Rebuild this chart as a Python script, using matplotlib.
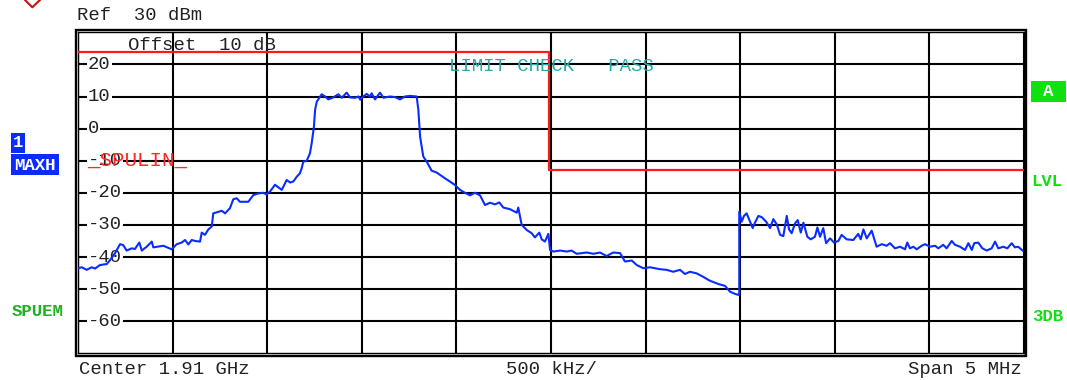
import numpy as np
import matplotlib
matplotlib.use('Agg')
import matplotlib.pyplot as plt
from matplotlib.patches import Rectangle
from matplotlib.lines import Line2D

# trace 1 (max hold), frequency offset from 1.91 GHz centre in MHz, level in dBm
freq_mhz = [
    -2.500, -2.480, -2.454, -2.428, -2.410, -2.384, -2.348, -2.331, -2.304, -2.278,
    -2.261, -2.243, -2.216, -2.199, -2.176, -2.163, -2.137, -2.110, -2.102, -2.049,
    -2.005, -1.978, -1.952, -1.934, -1.917, -1.899, -1.882, -1.855, -1.846, -1.829,
    -1.811, -1.793, -1.785, -1.758, -1.740, -1.723, -1.697, -1.679, -1.661, -1.644,
    -1.600, -1.573, -1.547, -1.521, -1.503, -1.485, -1.459, -1.441, -1.423, -1.397,
    -1.379, -1.362, -1.344, -1.327, -1.318, -1.309, -1.291, -1.274, -1.265, -1.253,
    -1.247, -1.238, -1.212, -1.194, -1.177, -1.151, -1.124, -1.106, -1.080, -1.062,
    -1.036, -1.018, -1.008, -0.992, -0.974, -0.957, -0.948, -0.930, -0.904, -0.886,
    -0.851, -0.824, -0.798, -0.772, -0.745, -0.710, -0.701, -0.692, -0.675, -0.657,
    -0.631, -0.604, -0.587, -0.560, -0.534, -0.507, -0.481, -0.464, -0.428, -0.402,
    -0.375, -0.349, -0.322, -0.296, -0.273, -0.252, -0.217, -0.181, -0.173, -0.155,
    -0.128, -0.102, -0.085, -0.062, -0.049, -0.032, -0.014, -0.005, 0.012, 0.048,
    0.083, 0.109, 0.136, 0.189, 0.224, 0.259, 0.294, 0.329, 0.365, 0.391,
    0.427, 0.453, 0.488, 0.523, 0.576, 0.611, 0.646, 0.682, 0.708, 0.734,
    0.770, 0.805, 0.840, 0.884, 0.920, 0.946, 0.973, 0.990, 0.995, 0.995,
    1.008, 1.020, 1.034, 1.052, 1.066, 1.078, 1.096, 1.114, 1.137, 1.158,
    1.175, 1.193, 1.211, 1.228, 1.246, 1.258, 1.272, 1.290, 1.304, 1.320,
    1.334, 1.355, 1.373, 1.395, 1.408, 1.422, 1.439, 1.454, 1.475, 1.496,
    1.519, 1.536, 1.563, 1.598, 1.624, 1.637, 1.651, 1.669, 1.695, 1.721,
    1.748, 1.774, 1.792, 1.818, 1.845, 1.871, 1.883, 1.897, 1.915, 1.933,
    1.959, 1.977, 2.003, 2.030, 2.047, 2.073, 2.091, 2.118, 2.135, 2.162,
    2.188, 2.206, 2.224, 2.237, 2.258, 2.280, 2.303, 2.329, 2.347, 2.364,
    2.391, 2.412, 2.435, 2.452, 2.469, 2.493,
]
level_dbm = [
    -43.5, -43.2, -44.0, -43.2, -43.6, -42.5, -42.2, -41.0, -38.8, -36.0,
    -36.3, -38.0, -37.3, -37.5, -35.5, -38.0, -36.8, -35.2, -37.0, -36.5,
    -37.6, -36.0, -35.5, -34.7, -36.1, -34.7, -35.0, -35.2, -32.4, -33.1,
    -31.4, -30.5, -26.4, -25.9, -25.6, -26.4, -24.8, -22.0, -21.7, -22.8,
    -22.8, -20.7, -20.2, -20.0, -20.5, -19.6, -17.5, -18.3, -19.1, -16.0,
    -16.8, -16.5, -15.0, -13.9, -12.4, -10.3, -10.0, -7.7, -4.6, 0.6,
    5.8, 8.4, 10.7, 10.0, 9.1, 9.7, 10.7, 9.6, 11.2, 9.7,
    9.6, 10.0, 9.0, 10.0, 10.8, 10.0, 11.0, 9.1, 11.2, 9.6,
    10.0, 9.8, 9.1, 10.0, 10.2, 10.0, 5.8, -2.5, -8.7, -10.3,
    -13.1, -13.7, -14.4, -15.5, -16.5, -17.6, -19.1, -19.7, -20.8, -20.0,
    -20.8, -23.8, -23.1, -23.6, -23.0, -24.6, -25.1, -26.2, -24.6, -30.0,
    -31.6, -32.6, -33.9, -32.4, -34.5, -35.2, -32.8, -37.8, -38.3, -38.0,
    -38.3, -38.0, -39.0, -38.6, -39.0, -38.6, -39.7, -38.6, -38.8, -41.4,
    -41.1, -42.5, -43.5, -43.2, -43.8, -44.0, -44.6, -44.0, -45.3, -44.6,
    -45.1, -46.2, -47.4, -48.4, -49.0, -50.8, -51.5, -51.8, -51.8, -25.9,
    -29.0, -27.2, -26.4, -29.0, -31.0, -29.3, -27.2, -27.6, -29.0, -31.0,
    -28.2, -29.8, -33.1, -33.5, -27.2, -31.4, -32.6, -29.5, -28.5, -32.4,
    -29.3, -33.7, -34.5, -33.7, -30.8, -33.7, -31.0, -35.7, -34.2, -35.5,
    -35.0, -33.1, -34.5, -34.7, -32.8, -34.5, -31.4, -34.2, -31.8, -36.8,
    -36.0, -36.5, -35.7, -37.3, -36.8, -37.6, -35.5, -37.3, -36.8, -37.6,
    -36.5, -36.0, -36.8, -36.5, -37.3, -36.2, -37.3, -35.0, -36.2, -36.8,
    -37.8, -35.7, -37.8, -35.7, -35.5, -37.3, -38.0, -37.3, -35.2, -37.3,
    -36.8, -37.3, -35.7, -37.0, -36.8, -38.0,
]

# spurious emission limit line
limit_freq = [-2.5, -0.01, -0.01, 2.5]
limit_dbm = [23.8, 23.8, -12.8, -12.8]

y_labels = [20, 10, 0, -10, -20, -30, -40, -50, -60]

plt.rcParams['font.family'] = ['Liberation Mono', 'DejaVu Sans Mono']
FS = 13.6

W, H = 1067, 380
def fx(px):
    return px / W
def fy(py):
    return 1 - py / H

fig = plt.figure(figsize=(W / 100, H / 100), dpi=100)
ax = fig.add_axes([fx(78), fy(353.3), (1024 - 78) / W, (353.3 - 32.3) / H])
ax.set_xlim(-2.5, 2.5)
ax.set_ylim(-70, 30)
ax.set_xticks(np.arange(-2.5, 2.51, 0.5))
ax.set_yticks(np.arange(-60, 30, 10))
ax.tick_params(length=0, labelbottom=False, labelleft=False)
ax.grid(True, color='black', lw=1.5, zorder=1)
ax.set_axisbelow(True)
for s in ax.spines.values():
    s.set_linewidth(1.0)

# double frame like the analyzer display
fig.add_artist(Rectangle((fx(76), fy(355.5)), (1026 - 76) / W, (355.5 - 30) / H,
                         transform=fig.transFigure, fill=False, lw=1.7, ec='black'))

ax.plot(limit_freq, limit_dbm, color='#ff1a1a', lw=1.6, zorder=3)
ax.plot(freq_mhz, level_dbm, color='#0a2cff', lw=1.5, zorder=4)

ytr = ax.get_yaxis_transform()
for v in y_labels:
    ax.text(0.0106, v, str(v), transform=ytr, ha='left', va='center', fontsize=FS,
            color='#222222', zorder=2,
            bbox=dict(boxstyle='square,pad=0.05', fc='white', ec='none'))

ax.text(0.0, 19.3, 'LIMIT CHECK   PASS', ha='center', va='center',
        fontsize=FS, color='#2aa8a8', zorder=6)
ax.text(0.0095, -10, '_SPULIN_', transform=ytr, ha='left', va='center',
        fontsize=15, color='#ff2a2a', zorder=6)

fig.text(fx(77), fy(15), 'Ref  30 dBm', ha='left', va='center', fontsize=FS, color='#222222')
fig.text(fx(128), fy(45), 'Offset  10 dB', ha='left', va='center', fontsize=FS, color='#222222')
fig.text(fx(79), fy(370), 'Center 1.91 GHz', ha='left', va='center', fontsize=FS, color='#222222')
fig.text(fx(551), fy(370), '500 kHz/', ha='center', va='center', fontsize=FS, color='#222222')
fig.text(fx(1022), fy(370), 'Span 5 MHz', ha='right', va='center', fontsize=FS, color='#222222')

# left side indicators
fig.add_artist(Rectangle((fx(11), fy(153)), 14 / W, 20 / H, transform=fig.transFigure,
                         fc='#0a2cff', ec='none'))
fig.text(fx(18), fy(143), '1', ha='center', va='center', fontsize=12.5,
         fontweight='bold', color='white')
fig.add_artist(Rectangle((fx(11), fy(175.5)), 48 / W, 21.5 / H, transform=fig.transFigure,
                         fc='#0a2cff', ec='none'))
fig.text(fx(35), fy(165), 'MAXH', ha='center', va='center', fontsize=12.5,
         fontweight='bold', color='white')
fig.text(fx(12), fy(311.5), 'SPUEM', ha='left', va='center', fontsize=12.5,
         fontweight='bold', color='#22b022')

# right side indicators
fig.add_artist(Rectangle((fx(1031), fy(101.7)), 35 / W, 20.7 / H, transform=fig.transFigure,
                         fc='#10e010', ec='none'))
fig.text(fx(1048.5), fy(91), 'A', ha='center', va='center', fontsize=12.5,
         fontweight='bold', color='white')
fig.text(fx(1031), fy(181.7), 'LVL', ha='left', va='center', fontsize=12.5,
         fontweight='bold', color='#10e010')
fig.text(fx(1032), fy(316.7), '3DB', ha='left', va='center', fontsize=12.5,
         fontweight='bold', color='#10e010')

# red marker symbol cut off at the top
fig.add_artist(Line2D([fx(24), fx(32.3), fx(41)], [fy(-1), fy(7.3), fy(-1)],
                      transform=fig.transFigure, color='#cc1010', lw=1.5))

fig.savefig('out.png', dpi=100)
